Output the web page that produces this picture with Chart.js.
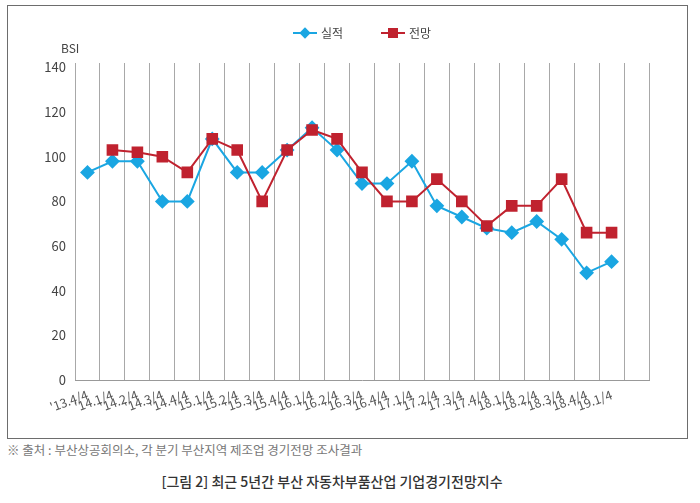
<!DOCTYPE html>
<html>
<head>
<meta charset="utf-8">
<script src="https://cdn.jsdelivr.net/npm/chart.js@4"></script>
<style>
  body { margin: 0; background: #fff; font-family: 'Noto Sans CJK KR', 'Noto Sans', sans-serif; }
  #frame { position: absolute; left: 7px; top: 5px; width: 681px; height: 434px; box-sizing: border-box; border: 1px solid #6d6d6d; }
  #chart { position: absolute; left: 0; top: 0; }
  .legend { position: absolute; top: 24px; font-size: 12px; color: #444; display: flex; align-items: center; }
  .legend .line { position: relative; width: 24px; height: 2px; margin-right: 4px; }
  .legend .mark { position: absolute; left: 7px; top: -4px; width: 10px; height: 10px; }
  #bsi { position: absolute; left: 61px; top: 39px; font-size: 12px; color: #444; }
  #source { position: absolute; left: 7px; top: 440px; font-size: 12.5px; color: #777; }
  #caption { position: absolute; left: 0; width: 664px; top: 471px; text-align: center; font-size: 14px; color: #333; font-weight: 500; }
</style>
</head>
<body>
<div id="frame"></div>
<canvas id="chart" width="700" height="440"></canvas>
<div class="legend" style="left:293px"><span class="line" style="background:#1aa6e2"><span class="mark" style="background:#1aa6e2;transform:rotate(45deg);width:8px;height:8px;left:8px;top:-3px"></span></span>실적</div>
<div class="legend" style="left:381px"><span class="line" style="background:#c0222f"><span class="mark" style="background:#c0222f;left:7px;top:-4px"></span></span>전망</div>
<div id="bsi">BSI</div>
<div id="source">※ 출처 : 부산상공회의소, 각 분기 부산지역 제조업 경기전망 조사결과</div>
<div id="caption">[그림 2] 최근 5년간 부산 자동차부품산업 기업경기전망지수</div>
<script>
// quarters, plus one empty slot at the right end
const quarters = ["'13.4/4", "'14.1/4", "'14.2/4", "'14.3/4", "'14.4/4", "'15.1/4", "'15.2/4", "'15.3/4",
  "'15.4/4", "'16.1/4", "'16.2/4", "'16.3/4", "'16.4/4", "'17.1/4", "'17.2/4", "'17.3/4", "'17.4/4",
  "'18.1/4", "'18.2/4", "'18.3/4", "'18.4/4", "'19.1/4", ""];

// 실적 (actual)
const actual = [93, 98, 98, 80, 80, 108, 93, 93, 103, 113, 103, 88, 88, 98, 78, 73, 68, 66, 71, 63, 48, 53, null];

// 전망 (outlook)
const outlook = [null, 103, 102, 100, 93, 108, 103, 80, 103, 112, 108, 93, 80, 80, 90, 80, 69, 78, 78, 90, 66, 66, null];

const yTicks = [0, 20, 40, 60, 80, 100, 120, 140];

const ctx = document.getElementById('chart').getContext('2d');
new Chart(ctx, {
  type: 'line',
  data: {
    labels: quarters,
    datasets: [{
      label: '실적',
      data: actual,
      borderColor: '#1aa6e2',
      backgroundColor: '#1aa6e2',
      borderWidth: 2,
      pointStyle: 'rectRot',
      pointRadius: 6,
      order: 2,
      tension: 0
    }, {
      label: '전망',
      data: outlook,
      borderColor: '#c0222f',
      backgroundColor: '#c0222f',
      borderWidth: 2,
      pointStyle: 'rect',
      pointRadius: 6.8,
      order: 1,
      tension: 0
    }]
  },
  options: {
    responsive: false,
    animation: false,
    layout: { padding: { left: 0, right: 51, top: 63, bottom: 20 } },
    scales: {
      x: {
        offset: true,
        grid: { display: true, offset: true, color: '#a8a8a8', lineWidth: 1, drawTicks: false },
        border: { display: true, color: '#999' },
        ticks: {
          autoSkip: false,
          minRotation: 20,
          maxRotation: 20,
          padding: 7,
          color: '#555',
          font: { family: "'Noto Sans CJK KR', sans-serif", size: 12.5 }
        },
        afterFit: s => { s.height = 40; }
      },
      y: {
        min: 0,
        max: 142,
        afterBuildTicks: s => { s.ticks = yTicks.map(v => ({ value: v })); },
        grid: { display: false, drawTicks: false },
        border: { display: false },
        ticks: {
          padding: 9,
          color: '#444',
          font: { family: "'Noto Sans CJK KR', sans-serif", size: 13 }
        },
        afterFit: s => { s.width = 75; }
      }
    },
    plugins: {
      legend: { display: false },
      tooltip: { enabled: false }
    }
  }
});
</script>
</body>
</html>
